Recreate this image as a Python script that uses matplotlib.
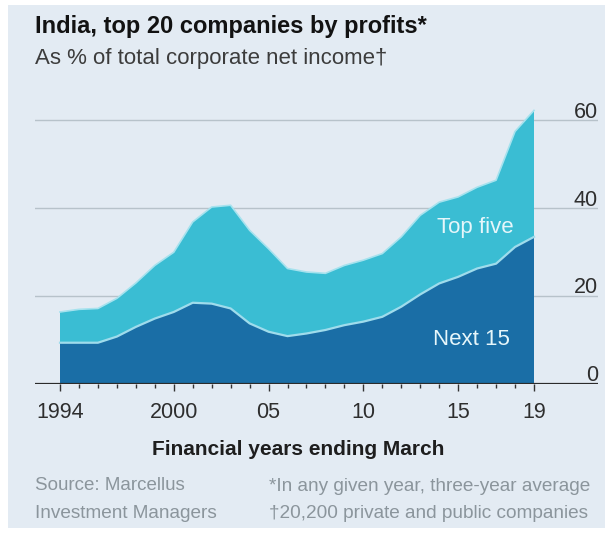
import matplotlib
matplotlib.use('Agg')
import matplotlib.pyplot as plt
from matplotlib.patches import Rectangle
import numpy as np

plt.rcParams['font.family'] = ['Liberation Sans', 'DejaVu Sans']

# values, % of total corporate net income
years = list(range(1994, 2020))
next_15 = [9.4, 9.4, 9.4, 10.8, 13.0, 14.9, 16.4, 18.5, 18.3, 17.2,
           13.8, 11.9, 10.9, 11.5, 12.3, 13.4, 14.2, 15.3, 17.6, 20.4,
           22.9, 24.4, 26.3, 27.4, 31.2, 33.5]
top_five = [7.0, 7.6, 7.8, 8.7, 10.0, 12.1, 13.6, 18.4, 22.0, 23.5,
            21.2, 18.9, 15.4, 14.0, 12.9, 13.6, 14.0, 14.4, 15.9, 18.0,
            18.5, 18.2, 18.5, 19.0, 26.3, 28.8]
major_years = [1994, 2000, 2005, 2010, 2015, 2019]
major_labels = ['1994', '2000', '05', '10', '15', '19']
y_ticks = [0, 20, 40, 60]

BG = '#e3ebf3'
DARK = '#1a6ea6'
LIGHT = '#3abdd3'
GRID = '#b7c2ca'
FOOT = '#8b959c'

W, H = 611, 533
fig = plt.figure(figsize=(W / 100, H / 100), dpi=100)
fig.add_artist(Rectangle((8 / W, 5 / H), 597 / W, 523 / H, transform=fig.transFigure,
                         facecolor=BG, edgecolor='none', zorder=0))

ax = fig.add_axes([35 / W, 1 - 384 / H, 563 / W, 284 / H])
ax.patch.set_alpha(0)

for v in y_ticks[1:]:
    ax.axhline(v, color=GRID, lw=1, zorder=0)

ax.stackplot(years, next_15, top_five, colors=[DARK, LIGHT], lw=0, zorder=2)
total = np.array(next_15) + np.array(top_five)
ax.plot(years, next_15, color='#9fdcec', lw=1.6, zorder=3)
ax.plot(years, total, color='#a6e2ee', lw=1.2, zorder=3)
ax.axhline(0, color='#2b2b2b', lw=1.6, zorder=5)

ax.set_xlim(1994 - 25 / 18.96, 2019 + 64 / 18.96)
ax.set_ylim(0, 284 / 4.392)
for s in ax.spines.values():
    s.set_visible(False)

ax.set_xticks(major_years, major_labels, fontsize=15.5, color='#2e2e2e')
ax.set_xticks(years, minor=True)
ax.tick_params(axis='x', which='major', length=5, width=1, color='#333333', pad=8)
ax.tick_params(axis='x', which='minor', length=3, width=1, color='#333333')
ax.set_yticks([])

for v in y_ticks:
    ax.text(1.0, v - 0.5, str(v), transform=ax.get_yaxis_transform(),
            ha='right', va='bottom', fontsize=15.5, color='#2e2e2e')

ax.text(2015.9, 35.6, 'Top five', ha='center', va='center', fontsize=16,
        color='#e6f6fa', zorder=6)
ax.text(2015.7, 10.2, 'Next 15', ha='center', va='center', fontsize=16,
        color='#e6f6fa', zorder=6)

fig.text(35 / W, 1 - 33 / H, 'India, top 20 companies by profits*', fontsize=17,
         fontweight='bold', color='#121212', va='baseline')
fig.text(35 / W, 1 - 64 / H, 'As % of total corporate net income\u2020', fontsize=16,
         color='#3c3c3c', va='baseline')
fig.text(298 / W, 1 - 455 / H, 'Financial years ending March', fontsize=15,
         fontweight='bold', color='#1e1e1e', ha='center', va='baseline')

fig.text(35 / W, 1 - 490 / H, 'Source: Marcellus', fontsize=13.5, color=FOOT, va='baseline')
fig.text(35 / W, 1 - 518 / H, 'Investment Managers', fontsize=13.7, color=FOOT, va='baseline')
fig.text(269 / W, 1 - 491 / H, '*In any given year, three-year average', fontsize=13.7,
         color=FOOT, va='baseline')
fig.text(269 / W, 1 - 518 / H, '\u202020,200 private and public companies', fontsize=13.7,
         color=FOOT, va='baseline')

fig.savefig('out.png', dpi=100)
